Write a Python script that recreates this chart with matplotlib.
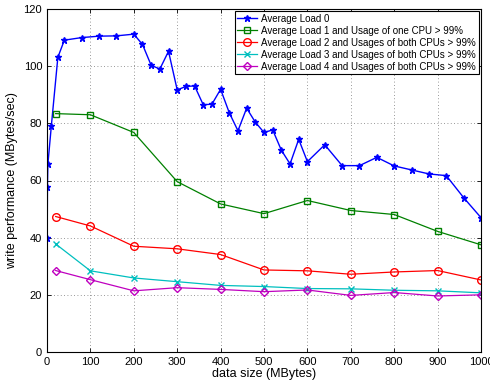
import numpy as np
import matplotlib.pyplot as plt

plt.rcParams.update({
    'font.family': ['Liberation Sans', 'DejaVu Sans'],
    'font.size': 8,
    'xtick.direction': 'in',
    'ytick.direction': 'in',
    'axes.linewidth': 0.8,
})

# --- data ---
size_load0 = [0.5, 1, 2, 10, 25, 40, 80, 120, 160, 200, 220, 240, 260, 280,
              300, 320, 340, 360, 380, 400, 420, 440, 460, 480, 500, 520,
              540, 560, 580, 600, 640, 680, 720, 760, 800, 840, 880, 920,
              960, 1000]
perf_load0 = [40, 57.8, 65.7, 79.1, 103.1, 109.1, 110.0, 110.5, 110.6, 111.2,
              107.6, 100.3, 99.0, 105.2, 91.7, 92.9, 93.1, 86.5, 86.7, 91.9,
              83.7, 77.4, 85.3, 80.4, 76.8, 77.7, 70.6, 65.8, 74.4, 66.6,
              72.5, 65.2, 65.2, 68.1, 65.1, 63.7, 62.3, 61.7, 54.0, 47.0]

size_loaded = [20, 100, 200, 300, 400, 500, 600, 700, 800, 900, 1000]
perf_load1 = [83.4, 83.0, 76.8, 59.6, 51.8, 48.4, 53.0, 49.5, 48.1, 42.2, 37.5]
perf_load2 = [47.4, 44.1, 37.0, 36.1, 34.1, 28.7, 28.4, 27.2, 28.0, 28.5, 25.2]
perf_load3 = [37.8, 28.4, 25.9, 24.6, 23.3, 22.9, 22.2, 22.1, 21.6, 21.4, 20.7]
perf_load4 = [28.5, 25.3, 21.4, 22.5, 21.9, 21.1, 21.7, 19.8, 20.8, 19.6, 20.0]

labels = ['Average Load 0',
          'Average Load 1 and Usage of one CPU > 99%',
          'Average Load 2 and Usages of both CPUs > 99%',
          'Average Load 3 and Usages of both CPUs > 99%',
          'Average Load 4 and Usages of both CPUs > 99%']

fig = plt.figure(figsize=(4.9, 3.81), dpi=100)
ax = fig.add_axes([47 / 490, 1 - 352 / 381, 434 / 490, 343 / 381])

ax.plot(size_load0, perf_load0, color='#0000ff', marker='*', markersize=4.5,
        linewidth=1.0, label=labels[0])
ax.plot(size_loaded, perf_load1, color='#008000', marker='s', markersize=4.5,
        markerfacecolor='none', linewidth=0.9, label=labels[1])
ax.plot(size_loaded, perf_load2, color='#ff0000', marker='o', markersize=5.5,
        markerfacecolor='none', linewidth=0.9, label=labels[2])
ax.plot(size_loaded, perf_load3, color='#00bfbf', marker='x', markersize=4,
        linewidth=0.9, label=labels[3])
ax.plot(size_loaded, perf_load4, color='#bf00bf', marker='D', markersize=4.5,
        markerfacecolor='none', linewidth=0.9, label=labels[4])

ax.set_xlim(0, 1000)
ax.set_ylim(0, 120)
ax.set_xticks(np.arange(0, 1001, 100))
ax.set_yticks(np.arange(0, 121, 20))
ax.tick_params(top=True, right=True, length=3, width=0.6)
ax.grid(True, linestyle=(0, (1, 3)), color='#777777', linewidth=0.6)

ax.set_xlabel('data size (MBytes)', fontsize=9, labelpad=1)
ax.set_ylabel('write performance (MBytes/sec)', fontsize=9, labelpad=4)

leg = ax.legend(loc='upper right', fancybox=False, edgecolor='black',
                framealpha=1, borderpad=0.25, labelspacing=0.2,
                handlelength=2.0, handletextpad=0.5, borderaxespad=0.25,
                fontsize=7)
leg.get_frame().set_linewidth(0.8)

fig.savefig('out.png', dpi=100)
